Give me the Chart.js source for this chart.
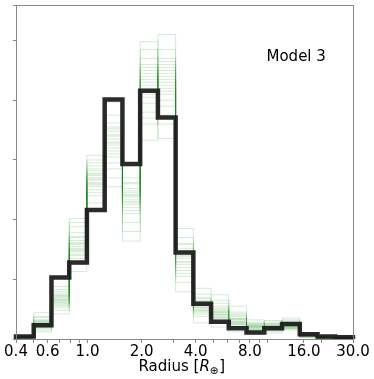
<!DOCTYPE html>
<html>
<head>
<meta charset="utf-8">
<script src="https://cdn.jsdelivr.net/npm/chart.js@4.4.1/dist/chart.umd.min.js"></script>
<style>
  html, body { margin: 0; padding: 0; background: #fff; }
  #wrap { width: 374px; height: 379px; }
</style>
</head>
<body>
<div id="wrap"><canvas id="myChart" width="374" height="379"></canvas></div>
<script>
// ========== data
// log-spaced bin edges, radius in earth radii
const edges = [0.4, 0.502, 0.630, 0.791, 0.992, 1.246, 1.564, 1.963, 2.464, 3.092,
	3.88, 4.87, 6.11, 7.67, 9.63, 12.09, 15.17, 19.04, 23.9, 30];

// thick black histogram
const model = [0.04, 0.23, 1.03, 1.28, 2.16, 4.01, 2.93, 4.16, 3.71, 1.45,
	0.59, 0.29, 0.18, 0.11, 0.18, 0.25, 0.08, 0.04, 0.03];

// thin green samples
const g1 = [0.02, 0.25, 0.62, 1.55, 2.70, 3.30, 2.30, 4.20, 4.30, 1.30, 0.55, 0.40, 0.30, 0.20, 0.18, 0.22, 0.05, 0.02, 0.01];
const g2 = [0.04, 0.18, 0.71, 1.42, 2.85, 3.10, 2.45, 4.45, 4.10, 1.45, 0.62, 0.48, 0.25, 0.15, 0.22, 0.18, 0.07, 0.03, 0.02];
const g3 = [0.03, 0.33, 0.55, 1.70, 2.55, 3.55, 2.15, 3.95, 4.55, 1.15, 0.48, 0.35, 0.35, 0.24, 0.15, 0.26, 0.04, 0.01, 0.02];
const g4 = [0.05, 0.22, 0.80, 1.35, 2.95, 2.95, 2.60, 4.60, 3.90, 1.60, 0.70, 0.55, 0.22, 0.18, 0.25, 0.20, 0.08, 0.04, 0.03];
const g5 = [0.01, 0.44, 0.66, 2.02, 2.62, 3.40, 2.20, 4.10, 4.70, 1.25, 0.52, 0.44, 0.40, 0.28, 0.20, 0.30, 0.06, 0.02, 0.01];
const g6 = [0.03, 0.28, 0.48, 1.60, 2.40, 3.75, 2.38, 4.35, 4.20, 1.38, 0.45, 0.30, 0.28, 0.12, 0.13, 0.24, 0.03, 0.03, 0.02];
const g7 = [0.04, 0.15, 0.74, 1.48, 2.78, 3.20, 1.95, 3.80, 4.45, 1.05, 0.65, 0.60, 0.32, 0.22, 0.28, 0.17, 0.09, 0.02, 0.01];
const g8 = [0.02, 0.30, 0.59, 1.78, 3.08, 2.70, 2.52, 4.70, 3.75, 1.52, 0.58, 0.38, 0.18, 0.17, 0.17, 0.35, 0.05, 0.05, 0.03];
const g9 = [0.06, 0.20, 0.88, 1.25, 2.66, 3.48, 2.70, 4.25, 4.85, 1.70, 0.38, 0.50, 0.45, 0.32, 0.21, 0.21, 0.07, 0.01, 0.02];
const g10 = [0.03, 0.36, 0.68, 1.65, 2.50, 3.05, 2.25, 3.60, 4.35, 1.20, 0.75, 0.74, 0.27, 0.19, 0.31, 0.25, 0.10, 0.03, 0.01];
const g11 = [0.02, 0.26, 0.52, 1.52, 2.90, 3.62, 2.10, 4.50, 4.00, 1.42, 0.50, 0.42, 0.55, 0.14, 0.16, 0.19, 0.04, 0.02, 0.04];
const g12 = [0.04, 0.12, 0.77, 1.88, 2.58, 3.25, 2.42, 4.05, 4.60, 0.95, 0.60, 0.33, 0.24, 0.25, 0.24, 0.28, 0.06, 0.04, 0.02];
const g13 = [0.05, 0.24, 0.64, 1.40, 2.74, 2.85, 2.90, 4.98, 3.60, 1.35, 0.85, 0.46, 0.33, 0.21, 0.19, 0.15, 0.02, 0.03, 0.01];
const g14 = [0.03, 0.31, 0.42, 1.58, 2.28, 3.97, 2.33, 4.30, 4.40, 1.85, 0.42, 0.28, 0.20, 0.08, 0.10, 0.23, 0.08, 0.02, 0.02];
const g15 = [0.01, 0.19, 0.70, 1.13, 2.82, 3.35, 1.80, 3.70, 5.10, 1.28, 0.56, 0.52, 0.38, 0.23, 0.23, 0.27, 0.05, 0.01, 0.03];
const g16 = [0.04, 0.27, 0.61, 1.72, 2.68, 3.15, 2.48, 4.55, 4.15, 1.48, 0.68, 0.20, 0.29, 0.16, 0.18, 0.20, 0.07, 0.03, 0.01];
const g17 = [0.02, 0.38, 0.83, 1.46, 2.45, 3.52, 2.28, 4.15, 4.50, 1.10, 0.27, 0.45, 0.12, 0.26, 0.26, 0.32, 0.06, 0.04, 0.02];
const g18 = [0.03, 0.21, 0.57, 1.62, 3.00, 2.55, 2.62, 3.33, 4.25, 1.58, 0.53, 0.36, 0.34, 0.20, 0.14, 0.22, 0.04, 0.02, 0.02];
const g19 = [0.05, 0.29, 0.73, 1.95, 2.60, 3.42, 1.64, 4.40, 3.36, 0.79, 0.63, 0.65, 0.26, 0.11, 0.22, 0.18, 0.09, 0.03, 0.01];
const g20 = [0.03, 0.23, 0.65, 1.50, 2.76, 3.28, 2.40, 4.85, 4.65, 1.40, 0.47, 0.41, 0.42, 0.22, 0.20, 0.26, 0.05, 0.02, 0.03];
const samples = [g1, g2, g3, g4, g5, g6, g7, g8, g9, g10, g11, g12, g13, g14, g15, g16, g17, g18, g19, g20];

// x tick labels (major) and unlabeled minor ticks
const majorTicks = [0.4, 0.6, 1, 2, 4, 8, 16, 30];
const minorTicks = [0.5, 0.7, 0.8, 0.9, 3, 5, 6, 7, 9, 10, 20];

const FONT = "'DejaVu Sans', 'Liberation Sans', sans-serif";


// ========== helpers

// turn bin heights into an outline like a step histogram
function stepPoints(h){
	let pts = [{x: edges[0], y: 0}];
	for (let i = 0; i < h.length; i++) {
		pts.push({x: edges[i], y: h[i]});
	}
	pts.push({x: edges[edges.length - 1], y: 0});
	return pts;
}

let datasets = [{
	data: stepPoints(model),
	stepped: 'before',
	borderColor: 'rgba(25, 25, 25, 0.92)',
	borderWidth: 4.5,
	pointRadius: 0,
	fill: false,
	clip: false,
	order: 0
}];

samples.forEach(s => {
	datasets.push({
		data: stepPoints(s),
		stepped: 'before',
		borderColor: 'rgba(0, 128, 0, 0.17)',
		borderWidth: 1,
		pointRadius: 0,
		fill: false,
		order: 1
	});
});


// frame + text labels
const extras = {
	id: 'extras',
	afterDraw(chart){
		const c = chart.ctx;
		const a = chart.chartArea;
		c.save();
		c.strokeStyle = '#888';
		c.lineWidth = 1;
		c.strokeRect(a.left + 0.5, a.top + 0.5, a.right - a.left, a.bottom - a.top);

		c.fillStyle = '#000';
		c.textBaseline = 'alphabetic';
		c.textAlign = 'left';
		c.font = "15px " + FONT;
		c.fillText('Model 3', 266.5, 61);

		// Radius [R_⊕]
		let x = 138.5, y = 371;
		c.font = "15px " + FONT;
		c.fillText('Radius [', x, y);
		x += c.measureText('Radius [').width;
		c.font = "italic 15px " + FONT;
		c.fillText('R', x, y);
		x += c.measureText('R').width;
		c.font = "10.5px " + FONT;
		c.fillText('\u2295', x, y + 2.5);
		x += c.measureText('\u2295').width + 0.5;
		c.font = "15px " + FONT;
		c.fillText(']', x, y);
		c.restore();
	}
};


// ========== setup chartjs
var ctx1 = document.getElementById('myChart').getContext('2d');
let myChart = new Chart(ctx1, {
	type: 'line',
	data: { datasets: datasets },
	plugins: [extras],
	options: {
		responsive: false,
		animation: false,
		layout: { padding: { top: 5, right: 21, left: 0, bottom: 0 } },
		plugins: {
			legend: { display: false },
			tooltip: { enabled: false }
		},
		scales: {
			x: {
				type: 'logarithmic',
				min: 0.4,
				max: 30,
				afterBuildTicks: scale => {
					scale.ticks = majorTicks.concat(minorTicks).sort((a, b) => a - b).map(v => ({value: v}));
				},
				afterFit: scale => { scale.height = 40; },
				border: { display: true, color: '#888' },
				grid: { drawOnChartArea: false, tickLength: 4, color: '#888' },
				ticks: {
					autoSkip: false,
					maxRotation: 0,
					padding: 0,
					color: '#000',
					font: { family: FONT, size: 15 },
					callback: v => majorTicks.includes(v) ? v.toFixed(1) : ''
				}
			},
			y: {
				min: 0,
				max: 5.595,
				afterFit: scale => { scale.width = 16; },
				border: { display: true, color: '#888' },
				grid: { drawOnChartArea: false, tickLength: 3, color: '#888' },
				ticks: { stepSize: 1, display: false }
			}
		}
	}
});
</script>
</body>
</html>
